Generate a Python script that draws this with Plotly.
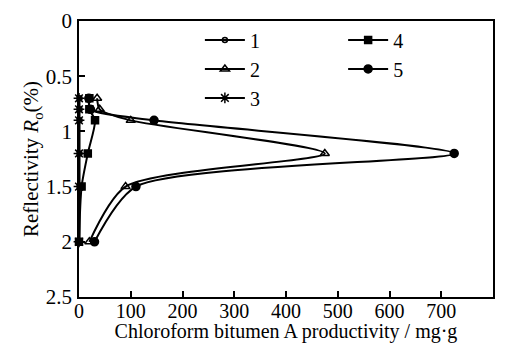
import plotly.graph_objects as go

depth = [0.7, 0.8, 0.9, 1.2, 1.5, 2.0]
s1 = [1, 1, 1, 1, 1, 1]
s2 = [35, 40, 100, 475, 90, 20]
s3 = [0, 0, 0, 0, 0, 0]
s4 = [20, 20, 31, 17, 5, 0]
s5 = [19, 22, 145, 725, 110, 30]
names = ["1", "2", "3", "4", "5"]
xt = [0, 100, 200, 300, 400, 500, 600, 700, 800]
yt = [0, 0.5, 1, 1.5, 2, 2.5]
ytl = ["0", "0.5", "1", "1.5", "2", "2.5"]

font = "Liberation Serif, Times New Roman, serif"
fig = go.Figure()
specs = [
    (s1, "circle-open", 5, "legend"),
    (s2, "triangle-up-open", 8, "legend"),
    (s3, "asterisk-open", 9, "legend"),
    (s4, "square", 7, "legend2"),
    (s5, "circle", 8, "legend2"),
]
for n, (xs, sym, sz, lg) in zip(names, specs):
    fig.add_trace(go.Scatter(
        x=xs, y=depth, name=n, mode="lines+markers",
        line=dict(color="black", width=2, shape="spline", smoothing=0.7),
        marker=dict(symbol=sym, size=sz, color="black",
                    line=dict(color="black", width=1.5)),
        legend=lg, cliponaxis=False,
    ))

axis_common = dict(showgrid=False, zeroline=False, showline=True,
                   linecolor="black", linewidth=1.5, mirror=True,
                   ticks="inside", ticklen=6, tickwidth=1.5, tickcolor="black",
                   automargin=True)
fig.update_xaxes(range=[0, 800], tickvals=xt, ticklabelstandoff=-5,
                 tickfont=dict(family=font, size=20, color="black"),
                 **axis_common,
                 title=dict(text="Chloroform bitumen A productivity / mg·g",
                            font=dict(family=font, size=20, color="black"),
                            standoff=4))
fig.update_yaxes(range=[2.5, 0], tickvals=yt, ticktext=ytl,
                 ticklabelstandoff=1,
                 tickfont=dict(family=font, size=21, color="black"),
                 **axis_common,
                 title=dict(text="Reflectivity <i>R</i><sub>o</sub>(%)",
                            font=dict(family=font, size=21, color="black"),
                            standoff=0))
legend_common = dict(font=dict(family=font, size=20, color="black"),
                     bgcolor="rgba(0,0,0,0)", xanchor="left", yanchor="top",
                     itemwidth=40, tracegroupgap=0)
fig.update_layout(
    width=492, height=335,
    margin=dict(l=71, r=7, t=13, b=46, autoexpand=False),
    paper_bgcolor="white", plot_bgcolor="white",
    legend=dict(x=0.292, y=1.002, **legend_common),
    legend2=dict(x=0.638, y=1.002, **legend_common),
)
fig.write_html("out.html")
